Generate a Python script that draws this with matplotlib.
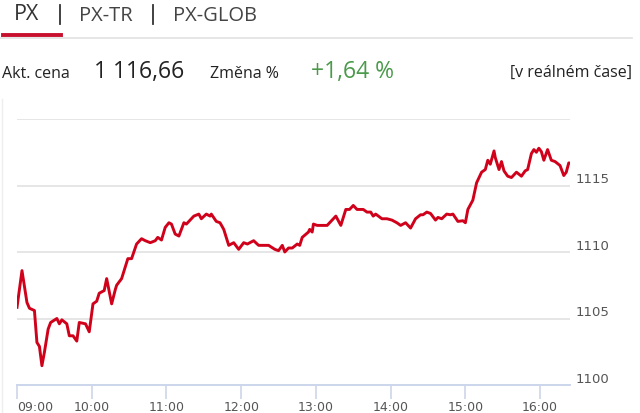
import matplotlib
matplotlib.use("Agg")
import matplotlib.pyplot as plt
from matplotlib.lines import Line2D

# minutes after 09:00
minutes = [0, 4, 8, 10, 14, 16, 18, 20, 22, 25, 27, 32, 34, 36, 40, 42, 45, 48, 50, 55,
           58, 61, 64, 66, 70, 72, 76, 79, 80, 84, 89, 92, 96, 100, 103, 107, 111, 113, 116, 119,
           122, 124, 127, 130, 134, 136, 139, 142, 146, 148, 152, 155, 156, 160, 163, 166, 170, 174, 178, 182,
           185, 190, 194, 202, 207, 210, 213, 215, 218, 221, 225, 227, 229, 234, 235, 237, 238, 241, 249, 252,
           256, 260, 264, 267, 270, 273, 278, 281, 284, 286, 288, 293, 297, 301, 305, 308, 312, 316, 320, 324,
           326, 329, 332, 336, 338, 341, 345, 348, 350, 354, 358, 360, 362, 366, 369, 373, 376, 378, 380, 383,
           384, 387, 389, 391, 394, 397, 401, 405, 408, 410, 413, 415, 417, 419, 421, 423, 426, 429, 432, 436,
           439, 441, 443, 445]
values = [1105.84, 1108.6, 1106.2, 1105.77, 1105.6, 1103.2, 1102.9, 1101.45, 1102.46, 1104.2,
          1104.7, 1105.0, 1104.6, 1104.9, 1104.6, 1103.7, 1103.7, 1103.3, 1104.7, 1104.6,
          1104.0, 1106.1, 1106.3, 1106.9, 1107.1, 1108.0, 1106.1, 1107.2, 1107.5, 1108.0,
          1109.5, 1109.5, 1110.6, 1111.0, 1110.85, 1110.7, 1110.85, 1111.1, 1110.9, 1111.85,
          1112.2, 1112.1, 1111.35, 1111.2, 1112.2, 1112.1, 1112.4, 1112.7, 1112.85, 1112.5,
          1112.85, 1112.7, 1112.85, 1112.3, 1112.2, 1111.7, 1110.5, 1110.7, 1110.2, 1110.7,
          1110.6, 1110.85, 1110.5, 1110.5, 1110.2, 1110.1, 1110.5, 1110.0, 1110.3, 1110.3,
          1110.6, 1110.5, 1111.1, 1111.5, 1111.7, 1111.5, 1112.1, 1112.0, 1112.0, 1112.3,
          1112.7, 1112.0, 1113.2, 1113.2, 1113.5, 1113.2, 1113.2, 1113.0, 1113.0, 1112.7,
          1112.85, 1112.5, 1112.5, 1112.4, 1112.2, 1112.0, 1112.2, 1111.8, 1112.5, 1112.8,
          1112.8, 1113.0, 1112.9, 1112.4, 1112.6, 1112.5, 1112.85, 1112.8, 1112.85, 1112.3,
          1112.35, 1112.2, 1113.2, 1113.9, 1115.2, 1116.0, 1116.2, 1116.9, 1116.6, 1117.6,
          1117.1, 1116.2, 1116.8, 1116.1, 1115.7, 1115.6, 1116.0, 1115.7, 1116.1, 1116.2,
          1117.4, 1117.7, 1117.5, 1117.8, 1117.55, 1116.9, 1117.7, 1116.9, 1116.8, 1116.5,
          1115.75, 1116.0, 1116.7, 1116.66]

x_ticks = [0, 60, 120, 180, 240, 300, 360, 420]
x_labels = ["09:00", "10:00", "11:00", "12:00", "13:00", "14:00", "15:00", "16:00"]
y_ticks = [1100, 1105, 1110, 1115, 1120]
y_labels = ["1100", "1105", "1110", "1115", ""]

tabs = ["PX", "PX-TR", "PX-GLOB"]
price_label = "Akt. cena"
price_text = "1 116,66"
change_label = "Změna %"
change_text = "+1,64 %"
realtime_text = "[v reálném čase]"

W, H = 640, 414
fig = plt.figure(figsize=(W / 100, H / 100), dpi=100)
fig.patch.set_facecolor("white")

def fx(px):
    return px / W

def fy(py):
    return 1 - py / H

hdr = "Open Sans"
# tabs
fig.text(fx(14), fy(14), tabs[0], fontsize=15.5, family=hdr, color="#333333", va="center", ha="left")
fig.text(fx(79), fy(16), tabs[1], fontsize=14.5, family=hdr, color="#444444", va="center", ha="left")
fig.text(fx(173), fy(16), tabs[2], fontsize=14.5, family=hdr, color="#444444", va="center", ha="left")
for sx in (60, 153):
    fig.add_artist(Line2D([fx(sx), fx(sx)], [fy(6), fy(25)], color="#333333", lw=1.3))
fig.add_artist(Line2D([fx(0), fx(632)], [fy(39), fy(39)], color="#e2e2e2", lw=1.2))
fig.add_artist(Line2D([fx(3), fx(61)], [fy(36), fy(36)], color="#c8102e", lw=2.8))

# info row
fig.text(fx(2), fy(74), price_label, fontsize=11.5, family=hdr, color="#222222", va="center", ha="left")
fig.text(fx(94), fy(72), price_text, fontsize=16.5, family=hdr, color="#222222", va="center", ha="left")
fig.text(fx(210), fy(74), change_label, fontsize=11.5, family=hdr, color="#222222", va="center", ha="left")
fig.text(fx(311), fy(72), change_text, fontsize=16.5, family=hdr, color="#4a9a4a", va="center", ha="left")
fig.text(fx(632), fy(73), realtime_text, fontsize=11.5, family=hdr, color="#222222", va="center", ha="right")

# left faint border
fig.add_artist(Line2D([fx(2), fx(2)], [fy(100), fy(414)], color="#eeeeee", lw=1))

ax = fig.add_axes([fx(17), fy(386), fx(570) - fx(17), fy(120) - fy(386)])
ax.plot(minutes, values, color="#d0021b", lw=2.1, solid_joinstyle="round")
ax.set_xlim(0, 444)
ax.set_ylim(1100, 1120)

for v in y_ticks[1:]:
    ax.axhline(v, color="#e6e6e6", lw=1.4, zorder=0)
for s in ["top", "right", "left"]:
    ax.spines[s].set_visible(False)
ax.spines["bottom"].set_color("#ccd6eb")
ax.spines["bottom"].set_linewidth(1.4)

ax.set_xticks(x_ticks)
ax.set_xticklabels(x_labels)
ax.tick_params(axis="x", length=10, width=1.2, color="#ccd6eb", labelsize=9,
               labelcolor="#555555", pad=0.5)
ax.get_xticklabels()[0].set_horizontalalignment("left")
ax.set_yticks([])
for v, lab in zip(y_ticks, y_labels):
    ax.text(1.01, (v - 1100) / 20, lab, transform=ax.transAxes, fontsize=9.5,
            color="#555555", va="bottom", ha="left")

fig.savefig("out.png", dpi=100, facecolor="white")
